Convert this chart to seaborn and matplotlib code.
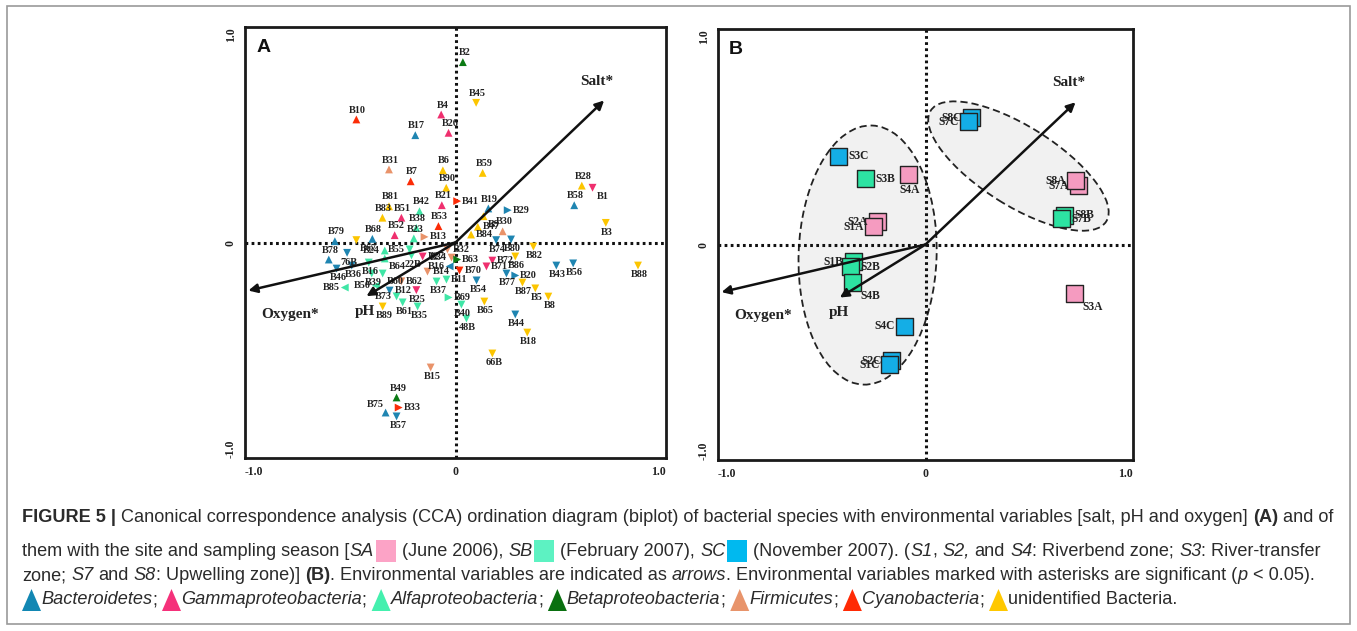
import numpy as np
import pandas as pd
import matplotlib
matplotlib.use("Agg")
import matplotlib.pyplot as plt
import seaborn as sns
from matplotlib.patches import Ellipse, Rectangle, Polygon
from matplotlib.transforms import IdentityTransform
from matplotlib import font_manager

# ---------------- data: panel A (species) ----------------
a_labels = ["B2", "B45", "B10", "B4", "B26", "B17", "B31", "B6", "B59", "B7", "B90", "B28", "B1", "B58",
            "B21", "B41", "B19", "B29", "B81", "B42", "B83", "B51", "B38", "B53", "B52", "B23", "B13",
            "B9", "B47", "B84", "B30", "B79", "B68", "B67", "B3", "B74", "B80", "B78", "76B", "B24",
            "B55", "B27", "B32", "B34", "B63", "22B", "B16", "B64", "B36", "B46", "B39", "B60", "B85",
            "B50", "B12", "B62", "B25", "B73", "B61", "B35", "B89", "B14", "B16", "B70", "B11", "B37",
            "B69", "B40", "48B", "B54", "B71", "B72", "B86", "B82", "B20", "B77", "B87", "B5", "B8",
            "B43", "B56", "B88", "B65", "B44", "B18", "66B", "B15", "B49", "B75", "B33", "B57"]
a_x = [0.035, 0.098, -0.471, -0.068, -0.033, -0.191, -0.316, -0.060, 0.129, -0.213, -0.044, 0.600, 0.651, 0.564,
       -0.065, 0.008, 0.156, 0.248, -0.316, -0.171, -0.347, -0.257, -0.186, -0.081, -0.289, -0.198, -0.147,
       0.133, 0.106, 0.074, 0.224, -0.573, -0.395, -0.471, 0.714, 0.193, 0.264, -0.602, -0.515, -0.336,
       -0.218, -0.156, -0.038, -0.019, 0.008, -0.209, -0.412, -0.336, -0.493, -0.565, -0.398, -0.346, -0.526,
       -0.378, -0.313, -0.257, -0.186, -0.280, -0.251, -0.180, -0.346, -0.133, -0.028, 0.019, -0.043, -0.090,
       -0.033, 0.028, 0.052, 0.100, 0.147, 0.175, 0.284, 0.370, 0.284, 0.242, 0.318, 0.379, 0.441,
       0.479, 0.559, 0.867, 0.137, 0.284, 0.341, 0.175, -0.118, -0.280, -0.332, -0.270, -0.280]
a_y = [0.837, 0.648, 0.571, 0.594, 0.509, 0.498, 0.339, 0.335, 0.323, 0.284, 0.254, 0.264, 0.254, 0.173,
       0.173, 0.192, 0.158, 0.150, 0.168, 0.145, 0.115, 0.115, 0.068, 0.076, 0.034, 0.019, 0.026,
       0.122, 0.073, 0.037, 0.052, 0.006, 0.017, 0.011, 0.091, 0.011, 0.014, -0.079, -0.048, -0.037,
       -0.032, -0.065, -0.032, -0.070, -0.079, -0.060, -0.093, -0.074, -0.107, -0.121, -0.144, -0.144, -0.209,
       -0.200, -0.223, -0.180, -0.221, -0.250, -0.278, -0.297, -0.297, -0.135, -0.111, -0.130, -0.172, -0.181,
       -0.255, -0.288, -0.353, -0.176, -0.111, -0.084, -0.065, -0.019, -0.153, -0.144, -0.186, -0.213, -0.251,
       -0.107, -0.097, -0.107, -0.274, -0.334, -0.418, -0.515, -0.580, -0.719, -0.789, -0.766, -0.807]
a_phylum = ["Bet", "Uni", "Cya", "Gam", "Gam", "Bac", "Fir", "Uni", "Uni", "Cya", "Uni", "Uni", "Gam", "Bac",
            "Gam", "Cya", "Bac", "Bac", "Uni", "Alf", "Uni", "Gam", "Alf", "Cya", "Gam", "Alf", "Fir",
            "Uni", "Uni", "Uni", "Fir", "Bac", "Bac", "Uni", "Uni", "Bac", "Bac", "Bac", "Bac", "Alf",
            "Alf", "Gam", "Fir", "Fir", "Bet", "Alf", "Alf", "Alf", "Bac", "Bac", "Alf", "Alf", "Alf",
            "Alf", "Bac", "Fir", "Gam", "Alf", "Alf", "Alf", "Uni", "Fir", "Bac", "Cya", "Alf", "Alf",
            "Alf", "Alf", "Alf", "Bac", "Gam", "Gam", "Uni", "Uni", "Bac", "Bac", "Uni", "Uni", "Uni",
            "Bac", "Bac", "Uni", "Uni", "Bac", "Uni", "Uni", "Fir", "Bet", "Bac", "Cya", "Bac"]
a_shape = ["^", "v", "^", "^", "^", "^", "^", "^", "^", "^", "^", "^", "v", "^",
           "^", ">", "^", ">", "^", "^", "^", "^", "^", "^", "^", "^", ">",
           "^", "^", "^", "^", "^", "^", "v", "v", "v", "v", "^", "v", "^",
           "v", "v", "v", "v", ">", "v", "v", "^", "v", "v", "v", "v", "<",
           "<", "v", "v", "v", "v", "v", "v", "v", "v", "<", "v", "v", "v",
           ">", "v", "v", "v", "v", "v", "v", "v", ">", "v", "v", "v", "v",
           "v", "v", "v", "v", "v", "v", "v", "v", "^", "^", ">", "v"]

# ---------------- data: panel B (sites) ----------------
b_labels = ["S8C", "S7C", "S3C", "S3B", "S4A", "S2A", "S1A", "S7A", "S8A", "S8B", "S7B",
            "S1B", "S2B", "S4B", "S3A", "S4C", "S2C", "S1C"]
b_x = [0.222, 0.206, -0.420, -0.288, -0.083, -0.231, -0.249, 0.739, 0.723, 0.671, 0.655,
       -0.348, -0.360, -0.353, 0.717, -0.100, -0.164, -0.172]
b_y = [0.588, 0.570, 0.410, 0.304, 0.327, 0.105, 0.082, 0.273, 0.296, 0.135, 0.120,
       -0.080, -0.103, -0.175, -0.226, -0.379, -0.540, -0.559]
b_season = [lab[-1] for lab in b_labels]

# environmental vectors (arrow tips)
env_names = ["Salt*", "pH", "Oxygen*"]
envA_x = [0.706, -0.423, -0.984]
envA_y = [0.659, -0.249, -0.223]
envB_x = [0.723, -0.413, -0.983]
envB_y = [0.660, -0.246, -0.221]

# groups (dashed ellipses) in panel B: centre x, centre y, width, height, angle
ell_cx = [-0.279, 0.448]
ell_cy = [-0.049, 0.364]
ell_w = [0.665, 0.99]
ell_h = [1.203, 0.37]
ell_ang = [-2.0, -31.0]

# ---------------- styles / layout ----------------
phylum_colors = {"Bac": "#1f85b1", "Gam": "#ef2f6e", "Alf": "#3fe6a6", "Bet": "#0b7a14",
                 "Fir": "#e9936a", "Cya": "#fb2c07", "Uni": "#fcc500"}
season_colors = {"A": "#f59bc0", "B": "#2de3a2", "C": "#14aee6"}

a_side = ["a", "a", "a", "a", "a", "a", "a", "a", "a", "a", "a", "a", "br", "a",
          "a", "r", "a", "r", "a", "a", "a", "a", "a", "a", "a", "a", "r",
          "br", "r", "r", "a", "a", "a", "br", "b", "b", "b", "a", "b", "l",
          "l", "r", "r", "l", "r", "b", "b", "br", "b", "b", "b", "br", "l",
          "l", "r", "r", "b", "l", "b", "b", "b", "r", "l", "r", "r", "b",
          "r", "b", "b", "b", "r", "r", "b", "b", "r", "b", "b", "b", "b",
          "b", "b", "b", "b", "b", "b", "b", "b", "a", "al", "r", "b"]
b_side = ["l", "l", "r", "r", "b", "l", "l", "l", "l", "r", "r",
          "l", "r", "br", "br", "l", "l", "l"]

sns.set_style("white")
plt.rcParams["font.family"] = ["Liberation Serif", "DejaVu Serif"]

fig = plt.figure(figsize=(13.57, 6.31), dpi=100)
W, H = 1357, 631

axA = fig.add_axes([245 / W, 1 - 458 / H, 421 / W, 431 / H])
axB = fig.add_axes([718 / W, 1 - 460 / H, 415 / W, 431 / H])

serif_bold = dict(family="Liberation Serif", fontweight="bold", color="#222222")


def offset_kw(side, s):
    table = {"a": ((1, s), "center", "bottom"), "b": ((1, -s), "center", "top"),
             "r": ((s, 0), "left", "center"), "l": ((-s, 0), "right", "center"),
             "br": ((s * 0.8, -s * 0.8), "left", "top"), "al": ((-s * 0.4, s * 0.8), "right", "bottom")}
    return table[side]


def style_axes(ax, letter):
    ax.set_xlim(-1, 1)
    ax.set_ylim(-1, 1)
    ax.set_xticks([-1, -0.5, 0, 0.5, 1])
    ax.set_yticks([-1, -0.5, 0, 0.5, 1])
    ax.set_xticklabels(["-1.0", "", "0", "", "1.0"])
    ax.set_yticklabels(["-1.0", "", "0", "", "1.0"], rotation=90)
    for lab in ax.get_xticklabels() + ax.get_yticklabels():
        lab.set_fontfamily("Liberation Serif")
        lab.set_fontweight("bold")
        lab.set_fontsize(8.5)
        lab.set_color("#222222")
    xl = ax.get_xticklabels()
    xl[0].set_ha("left")
    xl[-1].set_ha("right")
    yl = ax.get_yticklabels()
    yl[0].set_va("bottom")
    yl[2].set_va("center")
    yl[-1].set_va("top")
    ax.tick_params(axis="both", direction="out", length=3, width=1.5, pad=3, colors="#222222",
                   labelcolor="#222222")
    ax.set_xlabel("")
    ax.set_ylabel("")
    for sp in ax.spines.values():
        sp.set_linewidth(2)
        sp.set_color("#1a1a1a")
        sp.set_visible(True)
    ax.axhline(0, color="#111111", lw=2.2, ls=(0, (0.9, 1.1)), zorder=1)
    ax.axvline(0, color="#111111", lw=2.2, ls=(0, (0.9, 1.1)), zorder=1)
    ax.text(0.027, 0.972, letter, transform=ax.transAxes, ha="left", va="top",
            fontsize=14, fontweight="bold", family="Liberation Sans", color="#111111")


def draw_env(ax, ex, ey):
    label_off = {"Salt*": (-5, 14), "pH": (-1, -11), "Oxygen*": (30, -17)}
    for name, x, y in zip(env_names, ex, ey):
        ax.annotate("", xy=(x, y), xytext=(0, 0),
                    arrowprops=dict(arrowstyle="-|>", lw=1.8, color="#111111",
                                    mutation_scale=13, shrinkA=0, shrinkB=0), zorder=4)
        ax.annotate(name, xy=(x, y), xytext=label_off[name], textcoords="offset points",
                    ha="center", va="center", fontsize=11, zorder=5, **serif_bold)


# ---------------- panel A ----------------
dfA = pd.DataFrame({"x": a_x, "y": a_y, "phylum": a_phylum, "shape": a_shape, "label": a_labels})
style_axes(axA, "A")
sns.scatterplot(data=dfA, x="x", y="y", hue="phylum", style="shape",
                palette=phylum_colors, markers={m: m for m in set(a_shape)},
                s=32, linewidth=0, legend=False, ax=axA, zorder=3)
for lab, x, y, side in zip(a_labels, a_x, a_y, a_side):
    off, ha, va = offset_kw(side, 3.5)
    axA.annotate(lab, xy=(x, y), xytext=off, textcoords="offset points", ha=ha, va=va,
                 fontsize=7.3, zorder=4, **serif_bold)
draw_env(axA, envA_x, envA_y)
axA.set_xlabel("")
axA.set_ylabel("")

# ---------------- panel B ----------------
style_axes(axB, "B")
for cx, cy, w, h, ang in zip(ell_cx, ell_cy, ell_w, ell_h, ell_ang):
    axB.add_patch(Ellipse((cx, cy), w, h, angle=ang, facecolor="#f1f1f1", edgecolor="#222222",
                          lw=1.3, ls=(0, (4, 2.2)), zorder=0.5))
dfB = pd.DataFrame({"x": b_x, "y": b_y, "season": b_season, "label": b_labels})
sns.scatterplot(data=dfB, x="x", y="y", hue="season", palette=season_colors, marker="s",
                s=150, edgecolor="#222222", linewidth=1.0, legend=False, ax=axB, zorder=3)
for lab, x, y, side in zip(b_labels, b_x, b_y, b_side):
    off, ha, va = offset_kw(side, 7)
    axB.annotate(lab, xy=(x, y), xytext=off, textcoords="offset points", ha=ha, va=va,
                 fontsize=8.3, zorder=4, **serif_bold)
draw_env(axB, envB_x, envB_y)
axB.set_xlabel("")
axB.set_ylabel("")

# ---------------- outer frame ----------------
fig.add_artist(Rectangle((7 / W, 1 - 624 / H), 1343 / W, 618 / H, transform=fig.transFigure,
                         fill=False, edgecolor="#9a9a9a", lw=1.2))

# ---------------- caption ----------------
names = {f.name for f in font_manager.fontManager.ttflist}
cap_family = "Liberation Sans Narrow" if "Liberation Sans Narrow" in names else "Liberation Sans"
cap_color = "#2b2b2b"
renderer = fig.canvas.get_renderer()
ident = IdentityTransform()


def tkw(style, fs):
    return dict(fontsize=fs, family=cap_family, color=cap_color,
                fontweight="bold" if "b" in style else "normal",
                fontstyle="italic" if "i" in style else "normal")


def twidth(s, style, fs):
    if not s:
        return 0.0
    t = fig.text(0, 0, s, transform=ident, **tkw(style, fs))
    w = t.get_window_extent(renderer).width
    t.remove()
    return w


def run_line(runs, x0, yc, fs, draw):
    x = x0
    for run in runs:
        kind = run[0]
        if kind == "box":
            if draw:
                fig.add_artist(Rectangle((x + 2, yc - 11), 20, 22, transform=ident,
                                         facecolor=run[1], edgecolor="none"))
            x += 23
        elif kind == "tri":
            if draw:
                fig.add_artist(Polygon([(x, yc - 11), (x + 19, yc - 11), (x + 9.5, yc + 11)],
                                       closed=True, transform=ident, facecolor=run[1],
                                       edgecolor="none"))
            x += 19
        else:
            s, style = run[1], run[2]
            sp = twidth("x x", style, fs) - twidth("xx", style, fs)
            core = s.strip(" ")
            lead = len(s) - len(s.lstrip(" "))
            trail = len(s) - len(s.rstrip(" "))
            x += lead * sp
            if draw and core:
                fig.text(x, yc, core, transform=ident, ha="left", va="center", **tkw(style, fs))
            x += twidth(core, style, fs) + trail * sp
    return x


T = "t"
line1 = [(T, "FIGURE 5 |", "b"),
         (T, " Canonical correspondence analysis (CCA) ordination diagram (biplot) of bacterial species "
             "with environmental variables [salt, pH and oxygen] ", ""),
         (T, "(A)", "b"), (T, " and of", "")]
line2 = [(T, "them with the site and sampling season [", ""), (T, "SA", "i"),
         ("box", "#fca3c6"), (T, " (June 2006), ", ""), (T, "SB", "i"), ("box", "#5df2c2"),
         (T, " (February 2007), ", ""), (T, "SC", "i"), ("box", "#00b9ef"),
         (T, " (November 2007). (", ""), (T, "S1", "i"), (T, ", ", ""), (T, "S2,", "i"),
         (T, " and ", ""), (T, "S4", "i"), (T, ": Riverbend zone; ", ""), (T, "S3", "i"),
         (T, ": River-transfer", "")]
line3 = [(T, "zone; ", ""), (T, "S7", "i"), (T, " and ", ""), (T, "S8", "i"),
         (T, ": Upwelling zone)] ", ""), (T, "(B)", "b"),
         (T, ". Environmental variables are indicated as ", ""), (T, "arrows", "i"),
         (T, ". Environmental variables marked with asterisks are significant (", ""),
         (T, "p", "i"), (T, " < 0.05).", "")]
line4 = [("tri", "#1287b3"), (T, "Bacteroidetes", "i"), (T, "; ", ""),
         ("tri", "#f5317a"), (T, "Gammaproteobacteria", "i"), (T, "; ", ""),
         ("tri", "#44f0ae"), (T, "Alfaproteobacteria", "i"), (T, "; ", ""),
         ("tri", "#0a7010"), (T, "Betaproteobacteria", "i"), (T, "; ", ""),
         ("tri", "#e8946b"), (T, "Firmicutes", "i"), (T, "; ", ""),
         ("tri", "#ff2a05"), (T, "Cyanobacteria", "i"), (T, "; ", ""),
         ("tri", "#ffc800"), (T, "unidentified Bacteria.", "")]

x0 = 22
fs = 10.0
target = 1318
for _ in range(3):
    end = run_line(line2, x0, 0, fs, False)
    boxes = 3 * 23
    fs = fs * (target - x0 - boxes) / (end - x0 - boxes)

for ln, py in zip([line1, line2, line3, line4], [517, 551, 576, 600]):
    run_line(ln, x0, H - py, fs, True)

fig.savefig("out.png", dpi=100)
